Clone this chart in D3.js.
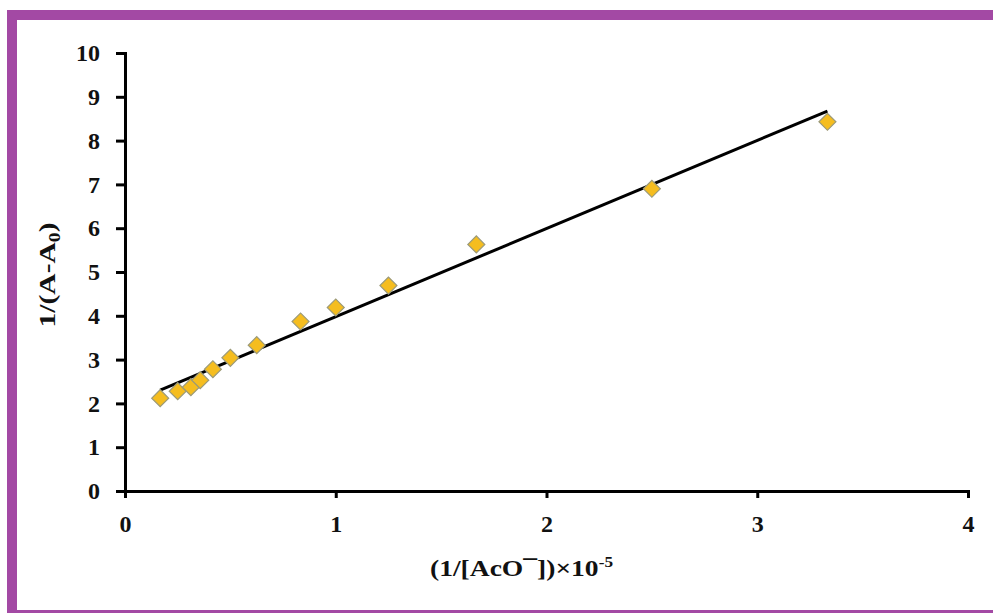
<!DOCTYPE html>
<html>
<head>
<meta charset="utf-8">
<script src="https://cdn.jsdelivr.net/npm/d3@7"></script>
<style>
  body { margin: 0; background: #fff; }
  svg { display: block; }
  .axis path, .axis line { stroke: #000; stroke-width: 3; }
  .title { font-family: "Liberation Serif", "Times New Roman", serif; font-weight: bold; font-size: 24px; fill: #111; }
</style>
</head>
<body>
<svg id="chart"></svg>
<script>
// data
var invConc = [0.167, 0.25, 0.3125, 0.357, 0.417, 0.5, 0.625, 0.833, 1.0, 1.25, 1.667, 2.5, 3.333];
var invAbs = [2.12, 2.28, 2.37, 2.53, 2.78, 3.04, 3.33, 3.87, 4.19, 4.69, 5.63, 6.90, 8.43];
var xTicks = [0, 1, 2, 3, 4];
var yTicks = [0, 1, 2, 3, 4, 5, 6, 7, 8, 9, 10];

var svgWidth = 993;
var svgHeight = 613;

var plot = { left: 125, right: 968, top: 53, bottom: 491 };

var svg = d3.select('#chart').attr('width', svgWidth).attr('height', svgHeight);

// purple frame
svg.append('rect')
  .attr('x', 12)
  .attr('y', 15)
  .attr('width', svgWidth + 20)
  .attr('height', 600)
  .attr('fill', '#fff')
  .attr('stroke', '#a349a4')
  .attr('stroke-width', 10);

var xScale = d3.scaleLinear().domain([0, 4]).range([plot.left, plot.right]);
var yScale = d3.scaleLinear().domain([0, 10]).range([plot.bottom, plot.top]);

var yAxis = svg.append('g')
  .attr('class', 'axis')
  .attr('transform', 'translate(' + plot.left + ',0)')
  .call(d3.axisLeft(yScale).tickValues(yTicks).tickSize(9).tickSizeOuter(9).tickPadding(16).tickFormat(d3.format('d')));

var xAxis = svg.append('g')
  .attr('class', 'axis')
  .attr('transform', 'translate(0,' + plot.bottom + ')')
  .call(d3.axisBottom(xScale).tickValues(xTicks).tickSize(7).tickSizeOuter(7).tickPadding(17).tickFormat(d3.format('d')));

[xAxis, yAxis].forEach(function(g) {
  g.attr('font-family', '"Liberation Serif", "Times New Roman", serif')
    .attr('font-size', 24)
    .attr('font-weight', 'bold');
  g.selectAll('text').attr('fill', '#111');
});

// linear trend line (least squares)
var n = invConc.length;
var mx = d3.mean(invConc), my = d3.mean(invAbs);
var sxy = 0, sxx = 0;
for (var i = 0; i < n; i++) {
  sxy += (invConc[i] - mx) * (invAbs[i] - my);
  sxx += (invConc[i] - mx) * (invConc[i] - mx);
}
var slope = sxy / sxx;
var intercept = my - slope * mx;
var xExt = d3.extent(invConc);

svg.append('line')
  .attr('x1', xScale(xExt[0]))
  .attr('y1', yScale(intercept + slope * xExt[0]))
  .attr('x2', xScale(xExt[1]))
  .attr('y2', yScale(intercept + slope * xExt[1]))
  .attr('stroke', '#000')
  .attr('stroke-width', 3);

var diamond = d3.symbol().type(d3.symbolSquare).size(144);

svg.append('g')
  .selectAll('path')
  .data(invConc)
  .enter()
  .append('path')
  .attr('d', diamond)
  .attr('transform', (d, i) => 'translate(' + xScale(d) + ',' + yScale(invAbs[i]) + ') rotate(45)')
  .attr('fill', '#f5bd1f')
  .attr('stroke', '#9c9a78')
  .attr('stroke-width', 1.2);

// axis titles
var xt = svg.append('text')
  .attr('class', 'title')
  .attr('x', 430)
  .attr('y', 576)
  .attr('textLength', 183)
  .attr('lengthAdjust', 'spacingAndGlyphs');
xt.append('tspan').text('(1/[AcO');
xt.append('tspan').text('¯');
xt.append('tspan').text('])×10');
xt.append('tspan').attr('dy', -9).attr('font-size', 15).text('-5');

var yt = svg.append('text')
  .attr('class', 'title')
  .attr('text-anchor', 'middle')
  .attr('transform', 'translate(55,275) rotate(-90)')
  .attr('textLength', 105)
  .attr('lengthAdjust', 'spacingAndGlyphs');
yt.append('tspan').text('1/(A-A');
yt.append('tspan').attr('dy', 5).attr('font-size', 16).text('0');
yt.append('tspan').attr('dy', -5).text(')');
</script>
</body>
</html>
